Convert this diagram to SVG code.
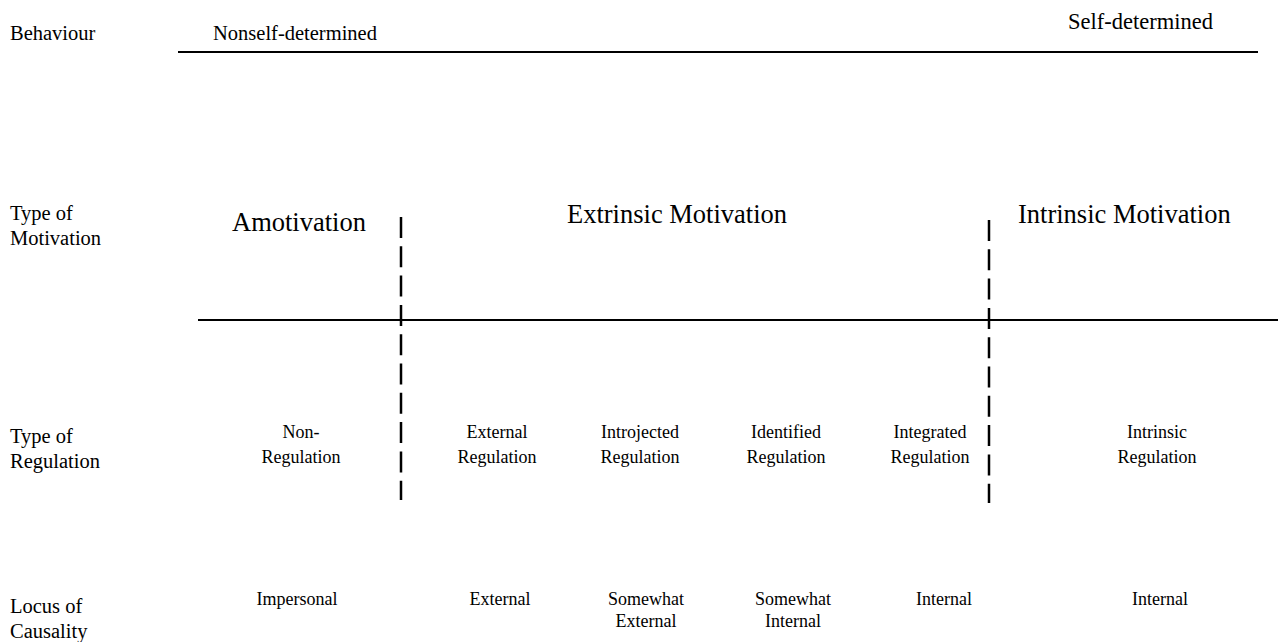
<svg xmlns="http://www.w3.org/2000/svg" width="1278" height="642" viewBox="0 0 1278 642">
<style>
text{font-family:"Liberation Serif","Times New Roman",serif;fill:#000}
.lab{font-size:20.5px}
.big{font-size:26.5px}
.sm{font-size:18px;text-anchor:middle}
.rule{stroke:#000;stroke-width:2;fill:none}
.dash{stroke:#000;stroke-width:2.5;fill:none;stroke-dasharray:21 8.3}
</style>
<rect width="1278" height="642" fill="#fff"/>
<g id="labels">
<text class="lab" x="10" y="40">Behaviour</text>
<text class="lab" x="10" y="220">Type of</text>
<text class="lab" x="10" y="245">Motivation</text>
<text class="lab" x="10" y="443">Type of</text>
<text class="lab" x="10" y="468">Regulation</text>
<text class="lab" x="10" y="613">Locus of</text>
<text class="lab" x="10" y="638">Causality</text>
</g>
<g id="behaviour">
<text class="lab" x="213" y="40">Nonself-determined</text>
<text class="lab" x="1068" y="29" style="font-size:22.5px">Self-determined</text>
</g>
<g id="motivation">
<text class="big" x="232" y="231">Amotivation</text>
<text class="big" x="567" y="223">Extrinsic Motivation</text>
<text class="big" x="1018" y="223">Intrinsic Motivation</text>
</g>
<g id="regulation">
<text class="sm" x="301" y="438">Non-</text><text class="sm" x="301" y="463">Regulation</text>
<text class="sm" x="497" y="438">External</text><text class="sm" x="497" y="463">Regulation</text>
<text class="sm" x="640" y="438">Introjected</text><text class="sm" x="640" y="463">Regulation</text>
<text class="sm" x="786" y="438">Identified</text><text class="sm" x="786" y="463">Regulation</text>
<text class="sm" x="930" y="438">Integrated</text><text class="sm" x="930" y="463">Regulation</text>
<text class="sm" x="1157" y="438">Intrinsic</text><text class="sm" x="1157" y="463">Regulation</text>
</g>
<g id="causality">
<text class="sm" x="297" y="605">Impersonal</text>
<text class="sm" x="500" y="605">External</text>
<text class="sm" x="646" y="605">Somewhat</text><text class="sm" x="646" y="627">External</text>
<text class="sm" x="793" y="605">Somewhat</text><text class="sm" x="793" y="627">Internal</text>
<text class="sm" x="944" y="605">Internal</text>
<text class="sm" x="1160" y="605">Internal</text>
</g>
<g id="connectors">
<line class="rule" x1="178" y1="52" x2="1258" y2="52"/>
<line class="rule" x1="198" y1="320" x2="1278" y2="320"/>
<line class="dash" x1="401" y1="217" x2="401" y2="500"/>
<line class="dash" x1="989" y1="220" x2="989" y2="503"/>
</g>
</svg>
